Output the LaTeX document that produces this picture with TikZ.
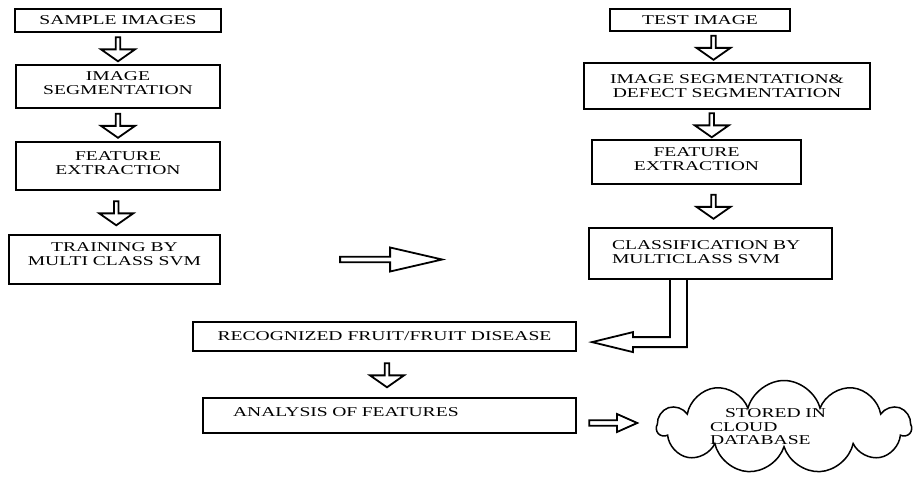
\documentclass[tikz,border=0pt]{standalone}
\usepackage{fontspec}
\setmainfont[FakeStretch=1.45]{Liberation Serif}
\usetikzlibrary{calc,shapes.arrows,shapes.symbols}

\begin{document}
\begin{tikzpicture}[x=1pt,y=-1pt]
  \tikzstyle{box}=[draw, line width=2.2pt, rectangle, inner sep=0pt, align=center,
    font=\fontsize{13.5}{13.5}\selectfont]
  \tikzstyle{down}=[draw, line width=1.8pt, single arrow, shape border rotate=270,
    minimum width=34pt, minimum height=24pt, single arrow head extend=6pt,
    single arrow head indent=0pt, single arrow tip angle=110, inner sep=0pt]
  \tikzstyle{rarrow}=[draw, line width=1.8pt, single arrow,
    single arrow head indent=0pt, inner sep=0pt]
  \useasboundingbox (0,0) rectangle (914,477);
  % left column
  \node (sample) [box, minimum width=206pt, minimum height=23pt] at (118,20.5) {SAMPLE IMAGES};
  \node (seg) [box, minimum width=204pt, minimum height=43pt, text depth=7pt] at (118,86.5) {IMAGE\\SEGMENTATION};
  \node (feat) [box, minimum width=204pt, minimum height=48pt, text depth=6pt] at (118,166) {FEATURE\\EXTRACTION};
  \node (train) [box, minimum width=211pt, minimum height=49pt, text depth=11pt] at (114.5,259.5) {TRAINING BY\\MULTI CLASS SVM};
  % right column
  \node (test) [box, minimum width=180pt, minimum height=22pt] at (700,20) {TEST IMAGE};
  \node (defect) [box, minimum width=286pt, minimum height=46pt] at (727,86) {IMAGE SEGMENTATION\&\\DEFECT SEGMENTATION};
  \node (feat2) [box, minimum width=209pt, minimum height=44pt, text depth=6pt] at (696.5,162) {FEATURE\\EXTRACTION};
  \node (cls) [box, minimum width=243pt, minimum height=51pt, align=left, text width=197pt,
    inner xsep=23pt, text depth=16pt] at (710.5,253.5) {CLASSIFICATION BY\\MULTICLASS SVM};
  % bottom
  \node (rec) [box, minimum width=383pt, minimum height=29pt] at (384.5,336.5) {RECOGNIZED FRUIT/FRUIT DISEASE};
  \node (ana) [box, minimum width=373pt, minimum height=35pt, align=left, text width=313pt,
    inner xsep=30pt, text depth=7pt] at (389.5,415.5) {ANALYSIS OF FEATURES};
  \node (cloud) [draw, cloud, cloud puffs=11, cloud ignores aspect=false, aspect=2.8,
    line width=1.5pt, minimum width=254pt, minimum height=93pt, align=left, text width=148pt,
    inner xsep=-30pt, inner ysep=-10pt, font=\fontsize{13.5}{13.5}\selectfont] at (784,427)
    {\hspace*{15pt}STORED IN\\CLOUD\\DATABASE};
  % block arrows
  \node (a1) [down] at ($(sample.south)!0.5!(seg.north)$) {};
  \node (a2) [down] at ($(seg.south)!0.5!(feat.north)$) {};
  \node (a3) [down] at ($(feat.south)!0.5!(train.north)$) {};
  \node (b1) [down] at ($(test.south)!0.5!(defect.north)$) {};
  \node (b2) [down] at ($(defect.south)!0.5!(feat2.north)$) {};
  \node (b3) [down, xshift=10pt] at ($(feat2.south)!0.5!(cls.north)$) {};
  \node (c1) [down] at ($(rec.south)!0.5!(ana.north)$) {};
  \node (mid) [rarrow, minimum width=24pt, minimum height=102pt, single arrow head extend=3pt,
    single arrow tip angle=26] at ($(train.east)+(164,0)$) {};
  \node (tocloud) [rarrow, minimum width=18pt, minimum height=48pt, single arrow head extend=2pt,
    single arrow tip angle=48] at ($(ana.east)+(33,7.5)$) {};
  % classification to recognized
  \draw [line width=1.8pt, line join=miter] ($(cls.south)+(-40.5,0)$) -- ++(0,57) -- ++(-37,0)
    -- ++(0,-5) -- ++(-41,10) -- ++(41,10) -- ++(0,-5) -- ++(54,0) -- ++(0,-67);
\end{tikzpicture}
\end{document}
